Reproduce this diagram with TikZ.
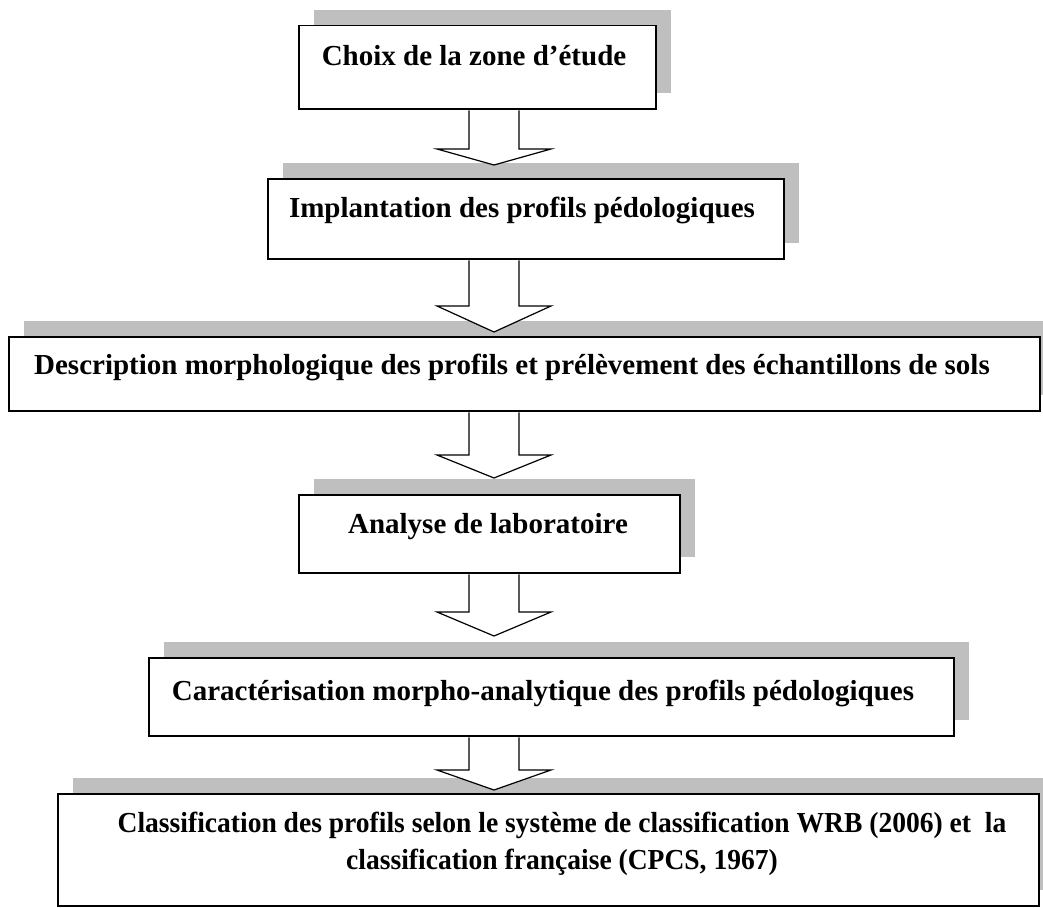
\documentclass[tikz,border=0pt]{standalone}
\usepackage{fontspec}
\setmainfont{Liberation Serif}
\usetikzlibrary{shadows,calc}

\begin{document}
\begin{tikzpicture}[
    x=1pt, y=-1pt,
    boite/.style={
        draw,
        line width=1.5pt,
        fill=white,
        anchor=north west,
        inner sep=0pt,
        drop shadow={shadow xshift=15pt, shadow yshift=16pt,
            fill=gray!50, opacity=1}
    },
    titre/.style={
        font=\bfseries\fontsize{29}{37}\selectfont,
        align=center,
        anchor=base
    },
    fleche/.style={
        draw,
        line width=1.2pt,
        fill=white,
        line join=miter
    }
]
    \useasboundingbox (0,0) rectangle (1043,907);
    \clip (0,0) rectangle (1043,907);

    % --- Boites ---
    \node[boite, minimum width=357, minimum height=83] (b1) at (298,25) {};
    \node[boite, minimum width=516, minimum height=80] (b2) at (267,178) {};
    \node[boite, minimum width=1031, minimum height=74] (b3) at (8,336) {};
    \node[boite, minimum width=381, minimum height=78] (b4) at (298,494) {};
    \node[boite, minimum width=805, minimum height=78] (b5) at (148,657) {};
    \node[boite, minimum width=981, minimum height=112] (b6) at (57,793) {};

    % --- Textes ---
    \node[titre] (t1) at (474,65) {Choix de la zone d'étude};
    \node[titre] (t2) at (522,217) {Implantation des profils pédologiques};
    \node[titre] (t3) at (512,374)
        {Description morphologique des profils et prélèvement des échantillons de sols};
    \node[titre] (t4) at (488,533) {Analyse de laboratoire};
    \node[titre] (t5) at (543,700)
        {Caractérisation morpho-analytique des profils pédologiques};
    % texte un peu serre en largeur
    \node[titre, anchor=north, xscale=0.95, transform shape] (t6) at (562,809)
        {Classification des profils selon le système de classification WRB (2006) et~ la\\
         classification française (CPCS, 1967)};

    % --- Fleches ---
    \coordinate (axe) at (494,0);
    \coordinate (p1) at (494,165);
    \coordinate (p2) at (494,332);
    \coordinate (p3) at (494,478);
    \coordinate (p4) at (494,636);
    \coordinate (p5) at (494,790);

    \draw[fleche] let \p1=(b1.south -| axe), \p2=(p1) in
        (\x1-25pt,\y1-0.8pt) -- (\x1-25pt,\y2+16pt) -- (\x1-57pt,\y2+16pt)
        -- (\x2,\y2) -- (\x1+57pt,\y2+16pt) -- (\x1+25pt,\y2+16pt)
        -- (\x1+25pt,\y1-0.8pt);
    \draw[fleche] let \p1=(b2.south -| axe), \p2=(p2) in
        (\x1-25pt,\y1-0.8pt) -- (\x1-25pt,\y2+26pt) -- (\x1-57pt,\y2+26pt)
        -- (\x2,\y2) -- (\x1+57pt,\y2+26pt) -- (\x1+25pt,\y2+26pt)
        -- (\x1+25pt,\y1-0.8pt);
    \draw[fleche] let \p1=(b3.south -| axe), \p2=(p3) in
        (\x1-25pt,\y1-0.8pt) -- (\x1-25pt,\y2+23pt) -- (\x1-57pt,\y2+23pt)
        -- (\x2,\y2) -- (\x1+57pt,\y2+23pt) -- (\x1+25pt,\y2+23pt)
        -- (\x1+25pt,\y1-0.8pt);
    \draw[fleche] let \p1=(b4.south -| axe), \p2=(p4) in
        (\x1-25pt,\y1-0.8pt) -- (\x1-25pt,\y2+24pt) -- (\x1-57pt,\y2+24pt)
        -- (\x2,\y2) -- (\x1+57pt,\y2+24pt) -- (\x1+25pt,\y2+24pt)
        -- (\x1+25pt,\y1-0.8pt);
    \draw[fleche] let \p1=(b5.south -| axe), \p2=(p5) in
        (\x1-25pt,\y1-0.8pt) -- (\x1-25pt,\y2+20pt) -- (\x1-57pt,\y2+20pt)
        -- (\x2,\y2) -- (\x1+57pt,\y2+20pt) -- (\x1+25pt,\y2+20pt)
        -- (\x1+25pt,\y1-0.8pt);
\end{tikzpicture}
\end{document}
